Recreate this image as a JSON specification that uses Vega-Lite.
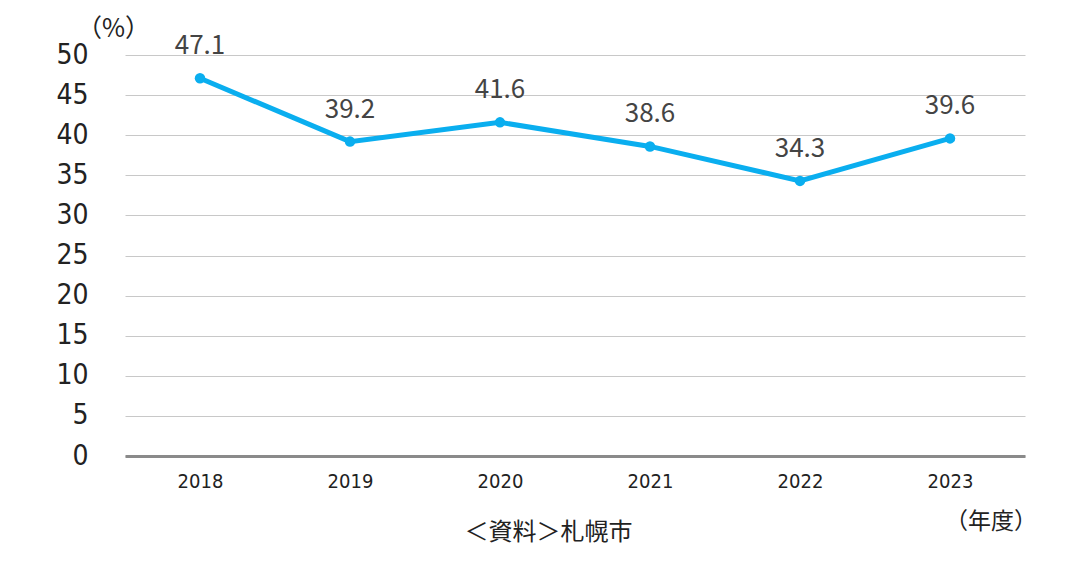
{
  "$schema": "https://vega.github.io/schema/vega-lite/v6.json",
  "width": 900,
  "height": 401,
  "autosize": "none",
  "padding": {"left": 125, "top": 55, "right": 61, "bottom": 111},
  "background": "white",
  "config": {"view": {"stroke": null}},
  "data": {"values": [
    {"year": "2018", "value": 47.1},
    {"year": "2019", "value": 39.2},
    {"year": "2020", "value": 41.6},
    {"year": "2021", "value": 38.6},
    {"year": "2022", "value": 34.3},
    {"year": "2023", "value": 39.6}
  ]},
  "title": {
    "text": "（年度）",
    "orient": "bottom",
    "anchor": "end",
    "frame": "group",
    "font": "Noto Sans CJK JP",
    "fontSize": 23,
    "fontWeight": "normal",
    "color": "#222",
    "offset": 0,
    "dy": -33,
    "dx": 12
  },
  "encoding": {
    "x": {
      "field": "year", "type": "ordinal",
      "scale": {"type": "point", "padding": 0.5},
      "axis": {
        "labelAngle": 0, "ticks": false, "grid": false,
        "domainColor": "#8a8a8a", "domainWidth": 3,
        "labelFont": "DejaVu Sans Condensed", "labelFontSize": 20, "labelColor": "#222",
        "labelPadding": 15,
        "title": "＜資料＞札幌市",
        "titleFont": "Noto Sans CJK JP", "titleFontSize": 24, "titleFontWeight": "normal", "titleColor": "#222",
        "titleX": 423, "titleY": 76, "titleAlign": "center", "titleBaseline": "middle"
      }
    },
    "y": {
      "field": "value", "type": "quantitative",
      "scale": {"domain": [0, 50]},
      "axis": {
        "values": [0,5,10,15,20,25,30,35,40,45,50],
        "ticks": false, "domain": false,
        "gridColor": "#c8c8c8", "gridWidth": 1,
        "labelFont": "DejaVu Sans Condensed", "labelFontSize": 28, "labelColor": "#222",
        "labelPadding": 37,
        "title": "（%）",
        "titleAngle": 0,
        "titleFont": "Noto Sans CJK JP", "titleFontSize": 25, "titleFontWeight": "normal", "titleColor": "#222",
        "titleX": -12, "titleY": -27, "titleAlign": "center", "titleBaseline": "middle"
      }
    }
  },
  "layer": [
    {"mark": {"type": "line", "color": "#0aaeef", "strokeWidth": 5}},
    {"mark": {"type": "point", "filled": true, "color": "#0aaeef", "size": 110, "opacity": 1}},
    {"mark": {"type": "text", "dy": -32, "font": "Noto Sans CJK JP", "fontSize": 26, "color": "#444"},
     "encoding": {"text": {"field": "value", "type": "quantitative", "format": ".1f"}}}
  ]
}
